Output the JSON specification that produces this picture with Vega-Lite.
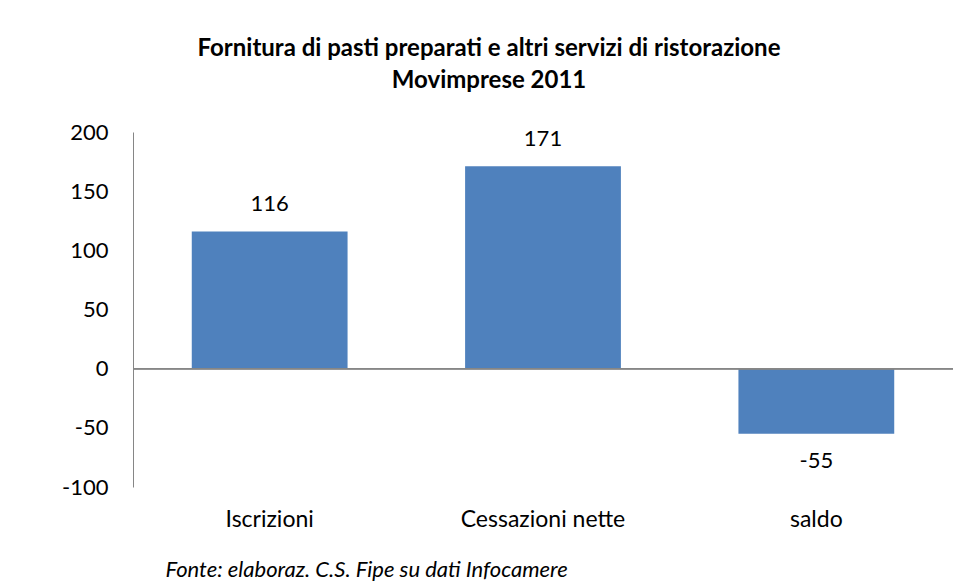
{
  "$schema": "https://vega.github.io/schema/vega-lite/v6.json",
  "width": 820,
  "height": 355,
  "autosize": {"type": "none"},
  "padding": {"left": 133, "top": 132, "right": 10, "bottom": 94},
  "background": "white",
  "config": {
    "font": "Lato",
    "view": {"stroke": null}
  },
  "title": {
    "text": ["Fornitura di pasti preparati e altri servizi di ristorazione", "Movimprese 2011"],
    "fontSize": 24,
    "fontWeight": "bold",
    "font": "Lato",
    "color": "#000000",
    "anchor": "middle",
    "dx": -54,
    "lineHeight": 32,
    "offset": 28
  },
  "data": {
    "values": [
      {"categoria": "Iscrizioni", "valore": 116},
      {"categoria": "Cessazioni nette", "valore": 171},
      {"categoria": "saldo", "valore": -55}
    ]
  },
  "encoding": {
    "x": {
      "field": "categoria",
      "type": "nominal",
      "sort": null,
      "scale": {"paddingInner": 0.43, "paddingOuter": 0.215},
      "axis": {
        "title": "Fonte: elaboraz. C.S. Fipe su dati Infocamere",
        "titleFont": "Lato",
        "titleFontStyle": "italic",
        "titleFontWeight": "normal",
        "titleFontSize": 22,
        "titleColor": "#000000",
        "titleAnchor": "start",
        "titleAlign": "left",
        "titleBaseline": "alphabetic",
        "titleX": 32,
        "titleY": 89,
        "labelAngle": 0,
        "labelFontSize": 23,
        "labelColor": "#000000",
        "labelPadding": 21,
        "domain": false,
        "ticks": false
      }
    },
    "y": {
      "field": "valore",
      "type": "quantitative",
      "scale": {"domain": [-100, 200], "nice": false},
      "axis": {
        "title": null,
        "values": [-100, -50, 0, 50, 100, 150, 200],
        "labelExpr": "'' + datum.value",
        "labelFontSize": 22,
        "labelColor": "#000000",
        "labelPadding": 25,
        "ticks": false,
        "grid": false,
        "domainColor": "#868686",
        "domainWidth": 1
      }
    }
  },
  "layer": [
    {"mark": {"type": "bar", "color": "#4F81BD"}},
    {
      "mark": {"type": "rule", "color": "#868686", "strokeWidth": 1.5},
      "encoding": {"y": {"datum": 0}, "x": null}
    },
    {
      "transform": [{"filter": "datum.valore >= 0"}],
      "mark": {"type": "text", "baseline": "bottom", "dy": -15, "fontSize": 22, "color": "#000000"},
      "encoding": {"text": {"field": "valore", "type": "nominal"}}
    },
    {
      "transform": [{"filter": "datum.valore < 0"}],
      "mark": {"type": "text", "baseline": "top", "dy": 17, "fontSize": 22, "color": "#000000"},
      "encoding": {"text": {"field": "valore", "type": "nominal"}}
    }
  ]
}
